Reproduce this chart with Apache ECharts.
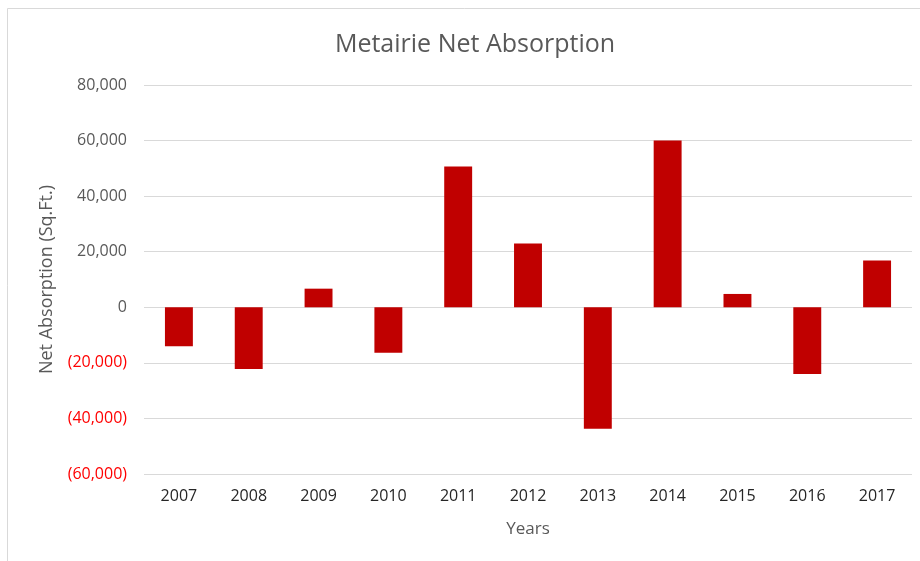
<!DOCTYPE html>
<html>
<head>
<meta charset="utf-8">
<script src="https://cdn.jsdelivr.net/npm/echarts@6/dist/echarts.min.js"></script>
<style>html,body{margin:0;padding:0;background:#fff}#c{width:920px;height:561px}</style>
</head>
<body>
<div id="c"></div>
<script>
const years = ['2007','2008','2009','2010','2011','2012','2013','2014','2015','2016','2017'];
const netAbsorption = [-14000, -22200, 6700, -16400, 50700, 23000, -43700, 60000, 4800, -24000, 16800];
const yTicks = { min: -60000, max: 80000, interval: 20000 };
const titleText = 'Metairie Net Absorption';
const xName = 'Years';
const yName = 'Net Absorption (Sq.Ft.)';

const FONT = 'Open Sans';
function fmt(v) {
  const s = Math.abs(v).toLocaleString('en-US');
  return v < 0 ? '{neg|(' + s + ')}' : '{pos|' + s + '}';
}
const chart = echarts.init(document.getElementById('c'), null, { renderer: 'canvas' });
chart.setOption({
  animation: false,
  backgroundColor: '#fff',
  graphic: [{
    type: 'rect', silent: true, z: -10,
    shape: { x: 7.5, y: 8.5, width: 1000, height: 1000 },
    style: { fill: 'none', stroke: '#d9d9d9', lineWidth: 1 }
  }],
  title: {
    text: titleText, top: 27, left: 470, textAlign: 'center',
    textStyle: { fontFamily: FONT, fontSize: 25, fontWeight: 'normal', color: '#595959' }
  },
  grid: { left: 144, right: 8, top: 85, bottom: 87, containLabel: false },
  xAxis: {
    type: 'category', data: years,
    axisLine: { show: false }, axisTick: { show: false },
    axisLabel: { fontFamily: FONT, fontSize: 16, color: '#262626', margin: 14 },
    name: xName, nameLocation: 'middle', nameGap: 47,
    nameTextStyle: { fontFamily: FONT, fontSize: 17, color: '#595959' }
  },
  yAxis: {
    type: 'value', min: yTicks.min, max: yTicks.max, interval: yTicks.interval,
    axisLine: { show: false }, axisTick: { show: false },
    splitLine: { lineStyle: { color: '#d9d9d9', width: 1 } },
    axisLabel: {
      margin: 17, formatter: fmt,
      rich: {
        pos: { fontFamily: FONT, fontSize: 16, color: '#595959' },
        neg: { fontFamily: FONT, fontSize: 16, color: '#ff0000' }
      }
    },
    name: yName, nameLocation: 'middle', nameGap: 88, nameRotate: 90,
    nameTextStyle: { fontFamily: FONT, fontSize: 18, color: '#595959' }
  },
  series: [{
    type: 'bar', data: netAbsorption, barWidth: '40%',
    itemStyle: { color: '#c00000' }
  }]
});
</script>
</body>
</html>
